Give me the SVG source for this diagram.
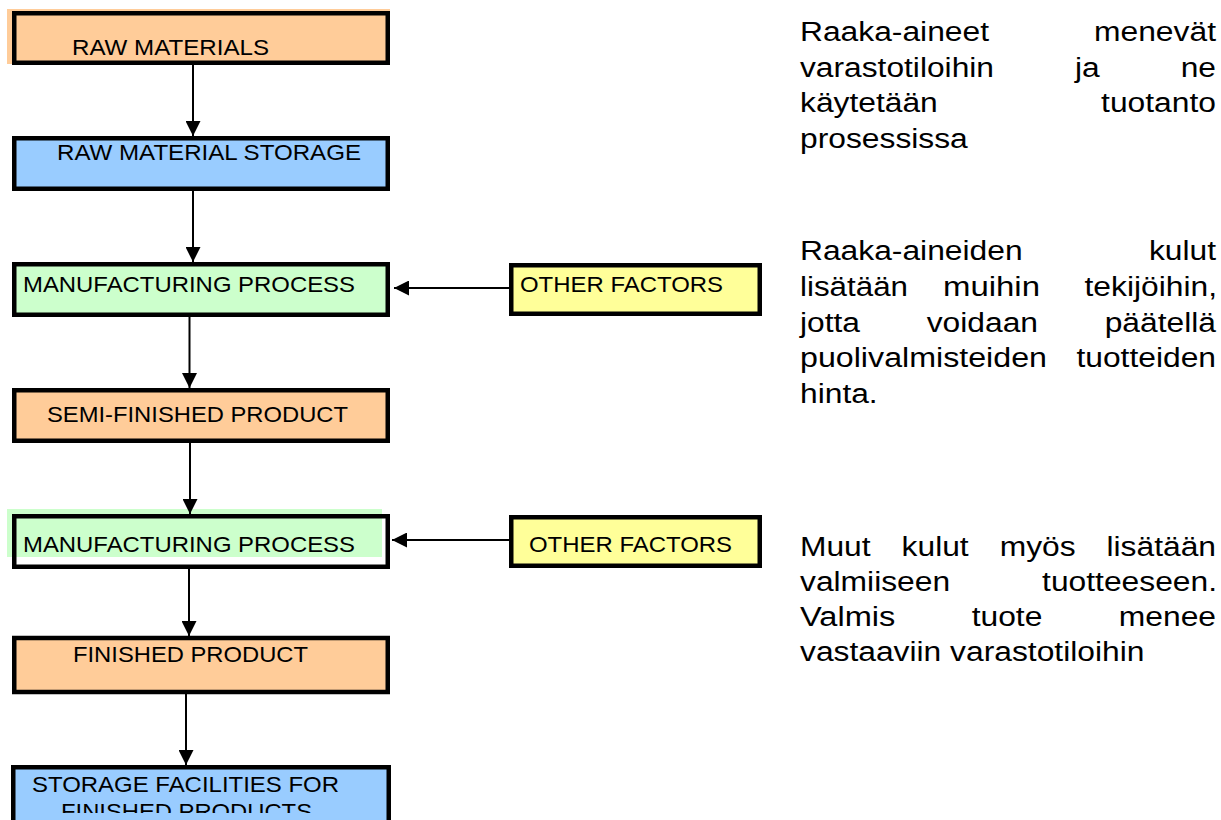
<svg xmlns="http://www.w3.org/2000/svg" width="1221" height="820" viewBox="0 0 1221 820">
  <style>
    .frame { stroke: #000; stroke-width: 4.5; }
    .orange { fill: #FFCC99; }
    .blue { fill: #99CCFF; }
    .green { fill: #CCFFCC; }
    .yellow { fill: #FFFF99; }
    .none { fill: none; }
    .lbl { font-family: "Liberation Sans", Arial, Helvetica, sans-serif; font-size: 22px; fill: #000; }
    .para { font-family: "Liberation Sans", Arial, Helvetica, sans-serif; font-size: 27px; fill: #000; }
    .link { stroke: #000; stroke-width: 2; fill: none; marker-end: url(#head); }
  </style>
  <defs>
    <marker id="head" markerUnits="userSpaceOnUse" markerWidth="15" markerHeight="15" viewBox="0 0 15 15" refX="15" refY="7.5" orient="auto">
      <path d="M0,0 L15,7.5 L0,15 Z" fill="#000"/>
    </marker>
    <clipPath id="bottomClip">
      <rect x="0" y="760" width="400" height="53"/>
    </clipPath>
  </defs>

  <rect width="1221" height="820" fill="#fff"/>

  <!-- flow boxes -->
  <g id="raw-materials">
    <rect class="orange" x="7" y="9" width="383" height="55"/>
    <rect class="frame orange" x="14.25" y="13.25" width="373.5" height="49.5"/>
    <text class="lbl" x="72" y="55" textLength="197" lengthAdjust="spacingAndGlyphs">RAW MATERIALS</text>
  </g>

  <g id="raw-material-storage">
    <rect class="frame blue" x="14.25" y="138.25" width="373.5" height="50.5"/>
    <text class="lbl" x="57" y="160" textLength="304" lengthAdjust="spacingAndGlyphs">RAW MATERIAL STORAGE</text>
  </g>

  <g id="manufacturing-1">
    <rect class="frame green" x="14.25" y="264.25" width="373.5" height="50.5"/>
    <text class="lbl" x="23" y="291.5" textLength="332" lengthAdjust="spacingAndGlyphs">MANUFACTURING PROCESS</text>
  </g>

  <g id="semi-finished">
    <rect class="frame orange" x="14.25" y="390.25" width="373.5" height="50.5"/>
    <text class="lbl" x="47" y="421.5" textLength="301" lengthAdjust="spacingAndGlyphs">SEMI-FINISHED PRODUCT</text>
  </g>

  <g id="manufacturing-2">
    <rect class="green" x="7" y="509" width="375" height="48"/>
    <rect class="frame none" x="14.25" y="516.25" width="373.5" height="50.5"/>
    <text class="lbl" x="23" y="552" textLength="332" lengthAdjust="spacingAndGlyphs">MANUFACTURING PROCESS</text>
  </g>

  <g id="finished-product">
    <rect class="frame orange" x="14.25" y="638" width="373.5" height="54"/>
    <text class="lbl" x="73" y="661.5" textLength="235" lengthAdjust="spacingAndGlyphs">FINISHED PRODUCT</text>
  </g>

  <g id="finished-storage">
    <rect class="frame blue" x="13.25" y="767.25" width="375.5" height="70"/>
    <text class="lbl" x="32" y="791.5" textLength="307" lengthAdjust="spacingAndGlyphs">STORAGE FACILITIES FOR</text>
    <text class="lbl" x="61" y="819" textLength="251" lengthAdjust="spacingAndGlyphs" clip-path="url(#bottomClip)">FINISHED PRODUCTS</text>
  </g>

  <g id="other-factors-1">
    <rect class="frame yellow" x="511.25" y="265.25" width="248.5" height="48.5"/>
    <text class="lbl" x="520" y="291.5" textLength="203" lengthAdjust="spacingAndGlyphs">OTHER FACTORS</text>
  </g>

  <g id="other-factors-2">
    <rect class="frame yellow" x="511.25" y="517.25" width="248.5" height="48.5"/>
    <text class="lbl" x="529" y="552" textLength="203" lengthAdjust="spacingAndGlyphs">OTHER FACTORS</text>
  </g>

  <!-- connectors -->
  <g id="connectors">
    <line class="link" x1="193" y1="65" x2="193" y2="136"/>
    <line class="link" x1="193" y1="191" x2="193" y2="262"/>
    <line class="link" x1="189.5" y1="317" x2="189.5" y2="388"/>
    <line class="link" x1="190" y1="443" x2="190" y2="514"/>
    <line class="link" x1="189" y1="569" x2="189" y2="636"/>
    <line class="link" x1="186" y1="694" x2="186" y2="765"/>
    <line class="link" x1="509" y1="288" x2="394" y2="288"/>
    <line class="link" x1="509" y1="540" x2="392" y2="540"/>
  </g>

  <!-- explanatory notes, justified column -->
  <g id="note-1" class="para">
    <text x="800" y="41" textLength="189" lengthAdjust="spacingAndGlyphs">Raaka-aineet</text>
    <text x="1216" y="41" text-anchor="end" textLength="122" lengthAdjust="spacingAndGlyphs">menevät</text>
    <text x="800" y="76.5" textLength="194" lengthAdjust="spacingAndGlyphs">varastotiloihin</text>
    <text x="1075" y="76.5" textLength="24.7" lengthAdjust="spacingAndGlyphs">ja</text>
    <text x="1216" y="76.5" text-anchor="end" textLength="35.3" lengthAdjust="spacingAndGlyphs">ne</text>
    <text x="800" y="112" textLength="137.8" lengthAdjust="spacingAndGlyphs">käytetään</text>
    <text x="1216" y="112" text-anchor="end" textLength="114.9" lengthAdjust="spacingAndGlyphs">tuotanto</text>
    <text x="800" y="147.5" textLength="167.8" lengthAdjust="spacingAndGlyphs">prosessissa</text>
  </g>

  <g id="note-2" class="para">
    <text x="800" y="260" textLength="222.6" lengthAdjust="spacingAndGlyphs">Raaka-aineiden</text>
    <text x="1216" y="260" text-anchor="end" textLength="67.1" lengthAdjust="spacingAndGlyphs">kulut</text>
    <text x="800" y="296" textLength="108" lengthAdjust="spacingAndGlyphs">lisätään</text>
    <text x="943" y="296" textLength="97" lengthAdjust="spacingAndGlyphs">muihin</text>
    <text x="1217" y="296" text-anchor="end" textLength="132.5" lengthAdjust="spacingAndGlyphs">tekijöihin,</text>
    <text x="800" y="331.5" textLength="60" lengthAdjust="spacingAndGlyphs">jotta</text>
    <text x="926.7" y="331.5" textLength="111.3" lengthAdjust="spacingAndGlyphs">voidaan</text>
    <text x="1216" y="331.5" text-anchor="end" textLength="111.3" lengthAdjust="spacingAndGlyphs">päätellä</text>
    <text x="800" y="367" textLength="247" lengthAdjust="spacingAndGlyphs">puolivalmisteiden</text>
    <text x="1216" y="367" text-anchor="end" textLength="139.6" lengthAdjust="spacingAndGlyphs">tuotteiden</text>
    <text x="800" y="402.5" textLength="77.7" lengthAdjust="spacingAndGlyphs">hinta.</text>
  </g>

  <g id="note-3" class="para">
    <text x="800" y="556" textLength="70.6" lengthAdjust="spacingAndGlyphs">Muut</text>
    <text x="901.6" y="556" textLength="67.1" lengthAdjust="spacingAndGlyphs">kulut</text>
    <text x="999.7" y="556" textLength="75.9" lengthAdjust="spacingAndGlyphs">myös</text>
    <text x="1216" y="556" text-anchor="end" textLength="109.5" lengthAdjust="spacingAndGlyphs">lisätään</text>
    <text x="800" y="591" textLength="150.1" lengthAdjust="spacingAndGlyphs">valmiiseen</text>
    <text x="1217" y="591" text-anchor="end" textLength="174.9" lengthAdjust="spacingAndGlyphs">tuotteeseen.</text>
    <text x="800" y="626" textLength="95.3" lengthAdjust="spacingAndGlyphs">Valmis</text>
    <text x="971.7" y="626" textLength="70.7" lengthAdjust="spacingAndGlyphs">tuote</text>
    <text x="1216" y="626" text-anchor="end" textLength="97.2" lengthAdjust="spacingAndGlyphs">menee</text>
    <text x="800" y="661" textLength="344.4" lengthAdjust="spacingAndGlyphs">vastaaviin varastotiloihin</text>
  </g>
</svg>
